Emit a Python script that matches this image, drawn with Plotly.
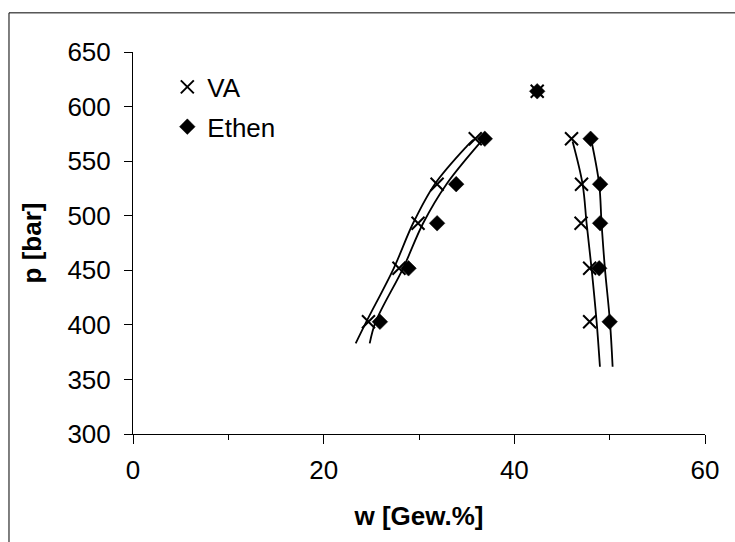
import plotly.graph_objects as go

# Measured points (w in Gew.%, p in bar)
va_w = [35.9, 31.9, 29.9, 27.9, 24.7, 46.0, 47.05, 47.0, 47.9, 47.9, 42.4]
va_p = [570.5, 528.9, 493.1, 451.8, 402.8, 570.5, 528.9, 493.1, 451.8, 402.8, 614.0]
ethen_w = [36.9, 33.9, 31.9, 28.9, 25.9, 48.0, 49.0, 49.0, 48.9, 50.0, 42.4]
ethen_p = [570.5, 528.9, 493.1, 451.8, 402.8, 570.5, 528.9, 493.1, 451.8, 402.8, 614.0]

# Fitted curves
va_left_w = [23.36, 24.48, 27.35, 29.38, 31.65, 34.98, 35.68]
va_left_p = [383.0, 402.9, 451.8, 493.1, 528.9, 563.4, 569.5]
ethen_left_w = [24.83, 25.46, 28.33, 30.43, 32.88, 36.66]
ethen_left_p = [383.0, 402.9, 451.8, 493.1, 528.9, 569.5]
va_right_w = [46.11, 47.16, 47.58, 48.10, 48.63, 48.98]
va_right_p = [568.0, 528.9, 493.1, 451.8, 402.9, 361.6]
ethen_right_w = [48.10, 48.90, 49.15, 49.50, 50.03, 50.31]
ethen_right_p = [568.0, 528.9, 493.1, 451.8, 402.9, 361.6]

FONT = "Liberation Sans, Arial, sans-serif"

fig = go.Figure()

for cw, cp in [(va_left_w, va_left_p), (ethen_left_w, ethen_left_p),
               (va_right_w, va_right_p), (ethen_right_w, ethen_right_p)]:
    fig.add_trace(go.Scatter(x=cw, y=cp, mode="lines", showlegend=False,
                             line=dict(color="black", width=1.8, shape="spline"),
                             hoverinfo="skip"))

fig.add_trace(go.Scatter(x=va_w, y=va_p, mode="markers", name="VA", legendgroup="va",
                         marker=dict(symbol="x-thin-open", size=13, color="black",
                                     line=dict(color="black", width=2))))
fig.add_trace(go.Scatter(x=ethen_w, y=ethen_p, mode="markers", name="Ethen", legendgroup="ethen",
                         marker=dict(symbol="diamond", size=12, color="black",
                                     line=dict(color="black", width=0.5))))

fig.update_layout(
    width=735, height=542,
    margin=dict(l=133, r=30, t=52, b=108),
    paper_bgcolor="white", plot_bgcolor="white",
    font=dict(family=FONT, size=26, color="black"),
    legend=dict(x=0.06, y=0.97, xanchor="left", yanchor="top",
                bgcolor="rgba(0,0,0,0)", font=dict(size=26),
                itemsizing="trace", traceorder="grouped", tracegroupgap=3),
    xaxis=dict(range=[0, 60], dtick=20, tick0=0, ticks="outside", ticklen=9,
               tickwidth=1, tickcolor="black", showline=True, linecolor="black",
               linewidth=1, showgrid=False, zeroline=False, ticklabelstandoff=4,
               minor=dict(dtick=10, ticks="outside", ticklen=5, tickcolor="black"),
               title=dict(text="<b>w [Gew.%]</b>", font=dict(size=26), standoff=22)),
    yaxis=dict(range=[300, 650], dtick=50, ticks="outside", ticklen=8,
               tickwidth=1, tickcolor="black", showline=True, linecolor="black",
               linewidth=1, showgrid=False, zeroline=False, ticklabelstandoff=8,
               title=dict(text="<b>p [bar]</b>", font=dict(size=26), standoff=18)),
    shapes=[dict(type="rect", xref="paper", yref="paper",
                 x0=-0.2168, x1=1.2, y0=-0.6, y1=1.1025,
                 line=dict(color="black", width=1), layer="below")],
)

fig.write_html("out.html")
